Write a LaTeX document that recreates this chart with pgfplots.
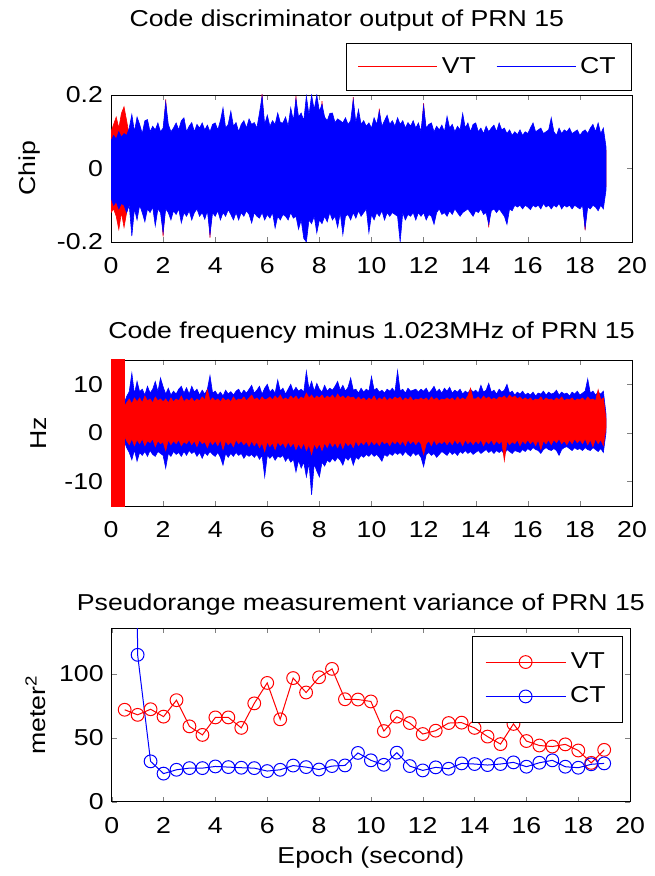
\documentclass[border=0pt]{standalone}
\usepackage{fontspec}
\setmainfont{Liberation Sans}[FakeStretch=1.16]
\usepackage{pgfplots}
\pgfplotsset{compat=1.18}
\usepackage{pgfplotstable}
\usepgfplotslibrary{fillbetween}

% Code discriminator output, CT (blue) envelope
\pgfplotstableread{
x u l
0.0 0.075 -0.08
0.1 0.09 -0.1
0.2 0.08 -0.09
0.3 0.1 -0.11
0.4 0.085 -0.095
0.5 0.095 -0.1
0.6 0.09 -0.12
0.7 0.11 -0.1
0.8 0.147 -0.184
0.9 0.1 -0.11
1.0 0.14 -0.14
1.1 0.12 -0.1
1.2 0.095 -0.12
1.3 0.13 -0.145
1.4 0.133 -0.11
1.5 0.1 -0.12
1.6 0.115 -0.105
1.7 0.105 -0.156
1.8 0.124 -0.11
1.9 0.1 -0.12
2.0 0.11 -0.175
2.1 0.18 -0.11
2.2 0.12 -0.12
2.3 0.1 -0.14
2.4 0.11 -0.115
2.5 0.124 -0.125
2.6 0.105 -0.11
2.7 0.13 -0.148
2.8 0.138 -0.12
2.9 0.1 -0.13
3.0 0.115 -0.115
3.1 0.125 -0.14
3.2 0.1 -0.12
3.3 0.12 -0.11
3.4 0.11 -0.13
3.5 0.124 -0.12
3.6 0.105 -0.138
3.7 0.118 -0.115
3.8 0.1 -0.18
3.9 0.12 -0.12
4.0 0.124 -0.13
4.1 0.105 -0.115
4.2 0.13 -0.14
4.3 0.165 -0.12
4.4 0.11 -0.13
4.5 0.12 -0.112
4.6 0.156 -0.125
4.7 0.115 -0.14
4.8 0.125 -0.12
4.9 0.1 -0.14
5.0 0.12 -0.12
5.1 0.13 -0.13
5.2 0.11 -0.115
5.3 0.135 -0.125
5.4 0.12 -0.148
5.5 0.125 -0.12
5.6 0.11 -0.13
5.7 0.151 -0.135
5.8 0.197 -0.12
5.9 0.12 -0.14
6.0 0.145 -0.125
6.1 0.115 -0.135
6.2 0.13 -0.12
6.3 0.12 -0.162
6.4 0.151 -0.13
6.5 0.125 -0.14
6.6 0.124 -0.125
6.7 0.14 -0.13
6.8 0.115 -0.14
6.9 0.165 -0.12
7.0 0.13 -0.135
7.1 0.19 -0.13
7.2 0.14 -0.165
7.3 0.151 -0.14
7.4 0.13 -0.19
7.5 0.197 -0.2
7.6 0.145 -0.14
7.7 0.2 -0.15
7.8 0.16 -0.13
7.9 0.2 -0.175
8.0 0.155 -0.14
8.1 0.175 -0.15
8.2 0.14 -0.13
8.3 0.13 -0.145
8.4 0.15 -0.12
8.5 0.151 -0.14
8.6 0.125 -0.13
8.7 0.135 -0.16
8.8 0.13 -0.12
8.9 0.124 -0.18
9.0 0.138 -0.13
9.1 0.12 -0.125
9.2 0.13 -0.14
9.3 0.187 -0.12
9.4 0.125 -0.135
9.5 0.16 -0.115
9.6 0.12 -0.13
9.7 0.13 -0.12
9.8 0.115 -0.11
9.9 0.124 -0.175
10.0 0.11 -0.125
10.1 0.138 -0.14
10.2 0.12 -0.12
10.3 0.156 -0.13
10.4 0.115 -0.115
10.5 0.13 -0.14
10.6 0.145 -0.12
10.7 0.12 -0.13
10.8 0.13 -0.12
10.9 0.115 -0.125
11.0 0.138 -0.13
11.1 0.12 -0.2
11.2 0.13 -0.12
11.3 0.11 -0.14
11.4 0.125 -0.125
11.5 0.115 -0.13
11.6 0.13 -0.12
11.7 0.11 -0.14
11.8 0.124 -0.12
11.9 0.1 -0.13
12.0 0.171 -0.12
12.1 0.11 -0.14
12.2 0.12 -0.125
12.3 0.124 -0.13
12.4 0.1 -0.152
12.5 0.115 -0.12
12.6 0.105 -0.11
12.7 0.118 -0.125
12.8 0.1 -0.12
12.9 0.142 -0.13
13.0 0.11 -0.115
13.1 0.12 -0.125
13.2 0.1 -0.11
13.3 0.115 -0.12
13.4 0.105 -0.13
13.5 0.15 -0.12
13.6 0.11 -0.115
13.7 0.124 -0.11
13.8 0.1 -0.12
13.9 0.12 -0.13
14.0 0.124 -0.115
14.1 0.1 -0.12
14.2 0.11 -0.11
14.3 0.095 -0.125
14.4 0.115 -0.12
14.5 0.1 -0.152
14.6 0.11 -0.115
14.7 0.118 -0.11
14.8 0.1 -0.12
14.9 0.124 -0.11
15.0 0.105 -0.12
15.1 0.11 -0.13
15.2 0.095 -0.152
15.3 0.105 -0.11
15.4 0.09 -0.115
15.5 0.1 -0.1
15.6 0.092 -0.105
15.7 0.105 -0.1
15.8 0.09 -0.11
15.9 0.1 -0.1
16.0 0.095 -0.105
16.1 0.11 -0.112
16.2 0.124 -0.1
16.3 0.1 -0.105
16.4 0.105 -0.1
16.5 0.11 -0.11
16.6 0.095 -0.095
16.7 0.1 -0.105
16.8 0.105 -0.1
16.9 0.138 -0.11
17.0 0.1 -0.1
17.1 0.09 -0.105
17.2 0.11 -0.095
17.3 0.095 -0.11
17.4 0.105 -0.1
17.5 0.1 -0.105
17.6 0.11 -0.1
17.7 0.095 -0.11
17.8 0.1 -0.1
17.9 0.105 -0.105
18.0 0.09 -0.11
18.1 0.1 -0.1
18.2 0.105 -0.162
18.3 0.095 -0.105
18.4 0.11 -0.11
18.5 0.12 -0.1
18.6 0.1 -0.105
18.7 0.124 -0.115
18.8 0.095 -0.1
18.9 0.11 -0.11
19.0 0.06 -0.06
}\topCT

% Code discriminator output, VT (red) envelope (mostly hidden below CT)
\pgfplotstableread{
x u l
0.0 0.10 -0.12
0.1 0.12 -0.11
0.2 0.14 -0.13
0.3 0.11 -0.166
0.4 0.15 -0.12
0.5 0.168 -0.16
0.6 0.13 -0.12
0.7 0.09 -0.09
1.0 0.08 -0.08
1.9 0.08 -0.08
2.0 0.08 -0.185
2.1 0.188 -0.08
2.2 0.08 -0.08
3.0 0.08 -0.08
3.7 0.08 -0.08
3.8 0.08 -0.188
3.9 0.08 -0.08
5.0 0.08 -0.08
5.7 0.08 -0.08
5.8 0.204 -0.08
5.9 0.08 -0.08
7.0 0.08 -0.08
7.1 0.197 -0.08
7.2 0.08 -0.08
8.0 0.08 -0.08
8.1 0.183 -0.08
8.2 0.08 -0.08
9.2 0.08 -0.08
9.3 0.194 -0.08
9.4 0.08 -0.08
10.2 0.08 -0.08
10.3 0.163 -0.08
10.4 0.08 -0.08
11.9 0.08 -0.08
12.0 0.178 -0.08
12.1 0.08 -0.08
14.4 0.08 -0.08
14.5 0.08 -0.16
14.6 0.08 -0.08
18.1 0.08 -0.08
18.2 0.08 -0.168
18.3 0.08 -0.08
19.0 0.05 -0.05
}\topVT

% Code frequency, CT (blue) envelope
\pgfplotstableread{
x u l
0.5 6.0 -1.5
0.6 7.5 -3.0
0.7 8.5 -4.0
0.8 12.3 -5.5
0.9 8.0 -3.5
1.0 10.6 -5.8
1.1 8.5 -4.0
1.2 9.0 -4.6
1.3 7.8 -3.8
1.4 9.6 -4.8
1.5 8.2 -3.6
1.6 9.0 -4.4
1.7 10.6 -4.8
1.8 8.5 -3.8
1.9 11.3 -4.2
2.0 9.5 -4.6
2.1 8.0 -7.2
2.2 9.2 -4.2
2.3 7.8 -4.8
2.4 8.6 -3.8
2.5 8.0 -4.4
2.6 9.0 -4.0
2.7 9.6 -4.8
2.8 8.2 -3.8
2.9 9.3 -4.6
3.0 8.0 -3.6
3.1 9.6 -4.2
3.2 8.4 -3.8
3.3 9.0 -4.8
3.4 7.8 -4.0
3.5 8.8 -5.2
3.6 8.0 -4.0
3.7 9.0 -4.6
3.8 11.8 -3.8
3.9 8.2 -4.4
4.0 8.6 -4.8
4.1 7.8 -4.0
4.2 8.4 -5.0
4.3 7.6 -6.6
4.4 8.8 -4.2
4.5 8.0 -5.0
4.6 8.5 -4.2
4.7 7.8 -4.8
4.8 8.6 -4.0
4.9 9.0 -4.6
5.0 8.0 -4.2
5.1 8.8 -5.2
5.2 8.2 -4.4
5.3 9.0 -4.8
5.4 9.8 -4.4
5.5 8.2 -5.0
5.6 8.8 -4.4
5.7 9.6 -5.4
5.8 8.0 -4.6
5.9 9.2 -9.0
6.0 10.0 -4.6
6.1 8.4 -5.2
6.2 9.0 -4.6
6.3 8.2 -5.6
6.4 10.9 -4.8
6.5 8.6 -5.0
6.6 9.2 -4.6
6.7 8.0 -5.8
6.8 9.0 -5.0
6.9 10.0 -6.0
7.0 8.5 -5.4
7.1 9.4 -8.0
7.2 8.6 -5.6
7.3 9.0 -7.2
7.4 8.4 -6.0
7.5 12.7 -9.0
7.6 9.0 -6.2
7.7 10.6 -12.7
7.8 8.6 -6.4
7.9 10.2 -7.8
8.0 9.0 -9.0
8.1 8.4 -6.0
8.2 9.8 -6.8
8.3 8.6 -5.6
8.4 9.2 -6.0
8.5 8.8 -5.2
8.6 9.6 -5.8
8.7 10.6 -5.0
8.8 8.8 -5.6
8.9 9.8 -6.6
9.0 8.6 -5.0
9.1 9.4 -5.6
9.2 11.3 -4.8
9.3 8.8 -6.6
9.4 9.0 -5.0
9.5 8.2 -5.4
9.6 9.2 -4.6
9.7 8.4 -5.0
9.8 9.0 -4.4
9.9 8.6 -4.8
10.0 11.6 -4.2
10.1 8.8 -4.8
10.2 9.2 -4.4
10.3 8.4 -5.0
10.4 8.8 -5.8
10.5 8.2 -4.4
10.6 9.0 -4.8
10.7 8.6 -4.2
10.8 9.2 -4.6
10.9 8.4 -4.0
11.0 12.8 -4.4
11.1 8.6 -4.0
11.2 9.0 -4.6
11.3 8.2 -3.8
11.4 9.2 -4.4
11.5 8.6 -4.8
11.6 8.8 -4.0
11.7 9.0 -4.6
11.8 8.4 -4.2
11.9 9.0 -5.0
12.0 8.6 -6.9
12.1 9.2 -4.4
12.2 8.2 -4.0
12.3 8.8 -4.6
12.4 9.6 -4.2
12.5 8.4 -5.0
12.6 9.0 -4.4
12.7 8.2 -3.8
12.8 9.2 -4.2
12.9 8.6 -4.6
13.0 9.4 -3.8
13.1 8.2 -4.4
13.2 8.8 -4.0
13.3 8.4 -4.6
13.4 9.0 -3.8
13.5 8.0 -4.2
13.6 8.6 -3.6
13.7 8.2 -4.2
13.8 9.0 -3.8
13.9 8.4 -4.4
14.0 8.8 -4.0
14.1 8.2 -3.6
14.2 9.8 -4.2
14.3 8.4 -3.8
14.4 8.8 -3.4
14.5 10.2 -4.0
14.6 8.4 -3.6
14.7 8.8 -4.2
14.8 8.0 -3.6
14.9 9.0 -4.0
15.0 8.4 -3.6
15.1 8.8 -4.4
15.2 10.0 -3.4
15.3 8.2 -3.8
15.4 8.6 -4.2
15.5 7.8 -3.6
15.6 8.4 -3.8
15.7 8.0 -4.0
15.8 8.6 -3.4
15.9 7.8 -3.8
16.0 8.2 -3.2
16.1 7.8 -3.6
16.2 8.4 -3.0
16.3 7.6 -3.4
16.4 8.2 -3.6
16.5 8.0 -4.2
16.6 8.6 -3.4
16.7 7.8 -3.0
16.8 8.4 -3.4
16.9 8.0 -3.6
17.0 8.2 -3.2
17.1 8.8 -3.6
17.2 7.8 -4.6
17.3 8.4 -3.4
17.4 8.0 -3.0
17.5 8.2 -2.8
17.6 7.6 -3.2
17.7 8.4 -3.6
17.8 8.0 -3.0
17.9 8.6 -3.4
18.0 7.8 -3.2
18.1 8.2 -3.6
18.2 8.6 -3.0
18.3 11.1 -3.4
18.4 8.2 -3.6
18.5 8.6 -3.0
18.6 7.8 -3.4
18.7 8.4 -3.8
18.8 8.0 -3.2
18.9 8.6 -4.0
19.0 4.0 0.0
}\midCT

% Code frequency, VT (red) envelope
\pgfplotstableread{
x u l
0.0 100 -100
0.5 100 -100
0.52 5.5 -0.6
0.6 6.2 -1.6
0.7 7.0 -2.4
0.8 6.0 -1.2
0.9 7.2 -2.6
1.0 6.4 -1.4
1.1 7.2 -2.2
1.2 6.2 -1.2
1.3 7.6 -2.6
1.4 6.6 -1.6
1.5 7.0 -2.0
1.6 6.2 -1.2
1.7 7.4 -2.8
1.8 6.6 -1.6
1.9 7.0 -2.2
2.0 6.4 -1.8
2.1 7.0 -3.6
2.2 6.2 -1.4
2.3 7.2 -2.4
2.4 6.4 -1.6
2.5 7.0 -2.2
2.6 6.6 -1.4
2.7 7.6 -2.6
2.8 6.4 -1.8
2.9 7.0 -2.2
3.0 6.6 -1.4
3.1 7.2 -2.4
3.2 6.4 -1.6
3.3 7.0 -2.8
3.4 6.6 -1.4
3.5 7.4 -2.2
3.6 6.8 -1.8
3.7 8.9 -3.0
3.8 6.6 -1.6
3.9 7.2 -2.4
4.0 6.6 -1.6
4.1 7.0 -2.6
4.2 6.4 -1.4
4.3 7.2 -3.4
4.4 6.6 -1.6
4.5 7.0 -2.4
4.6 6.4 -1.8
4.7 7.4 -2.8
4.8 6.6 -1.4
4.9 7.0 -2.2
5.0 6.8 -1.6
5.1 7.4 -2.4
5.2 6.6 -1.8
5.3 7.2 -2.8
5.4 7.8 -1.6
5.5 6.8 -2.6
5.6 7.2 -1.8
5.7 6.6 -3.0
5.8 7.4 -2.0
5.9 6.8 -3.8
6.0 7.0 -1.8
6.1 7.4 -2.8
6.2 6.8 -2.0
6.3 7.6 -3.4
6.4 7.0 -1.8
6.5 7.8 -2.6
6.6 6.8 -2.0
6.7 7.2 -3.0
6.8 6.8 -1.8
6.9 7.6 -2.8
7.0 7.0 -2.0
7.1 7.6 -3.4
7.2 6.8 -2.2
7.3 7.4 -3.2
7.4 7.0 -2.0
7.5 8.2 -3.6
7.6 7.2 -2.4
7.7 7.8 -4.4
7.8 7.0 -2.2
7.9 7.6 -3.2
8.0 7.2 -2.2
8.1 7.8 -3.6
8.2 7.0 -2.0
8.3 7.6 -3.0
8.4 7.2 -1.8
8.5 7.8 -2.8
8.6 7.0 -2.0
8.7 8.0 -3.0
8.8 7.2 -1.8
8.9 7.6 -3.2
9.0 7.0 -1.8
9.1 7.6 -2.6
9.2 7.2 -2.0
9.3 7.4 -3.0
9.4 6.8 -1.6
9.5 7.4 -2.6
9.6 6.8 -1.8
9.7 7.2 -2.4
9.8 6.6 -1.6
9.9 7.2 -2.6
10.0 6.8 -1.6
10.1 7.6 -2.4
10.2 6.6 -1.8
10.3 7.2 -2.6
10.4 6.8 -1.6
10.5 7.4 -2.2
10.6 6.6 -1.8
10.7 7.2 -2.6
10.8 6.8 -1.6
10.9 7.4 -2.2
11.0 7.0 -1.6
11.1 7.4 -2.4
11.2 6.6 -1.6
11.3 7.2 -2.6
11.4 6.8 -1.4
11.5 7.4 -2.2
11.6 6.6 -1.6
11.7 7.0 -2.4
11.8 6.8 -1.6
11.9 7.2 -2.2
12.0 6.8 -4.4
12.1 7.2 -2.2
12.2 6.6 -1.6
12.3 7.4 -2.6
12.4 6.8 -1.4
12.5 7.2 -2.4
12.6 6.6 -1.8
12.7 7.0 -2.2
12.8 6.8 -1.6
12.9 7.2 -2.4
13.0 6.8 -1.6
13.1 7.2 -2.4
13.2 6.6 -1.4
13.3 7.4 -2.2
13.4 6.8 -1.6
13.5 7.2 -2.6
13.6 6.8 -1.4
13.7 7.6 -2.2
13.8 9.2 -1.6
13.9 7.0 -2.4
14.0 7.0 -1.6
14.1 7.4 -2.2
14.2 6.8 -1.4
14.3 7.6 -2.6
14.4 7.0 -1.6
14.5 7.4 -2.2
14.6 6.8 -1.4
14.7 7.2 -2.4
14.8 6.8 -1.6
14.9 7.4 -2.2
15.0 7.2 -1.6
15.1 7.6 -5.7
15.2 7.0 -1.6
15.3 7.8 -2.4
15.4 7.2 -1.8
15.5 7.6 -2.2
15.6 7.0 -1.4
15.7 7.4 -2.6
15.8 6.8 -1.6
15.9 7.2 -2.2
16.0 6.8 -1.4
16.1 7.2 -2.2
16.2 6.6 -1.6
16.3 7.0 -2.6
16.4 6.8 -1.4
16.5 7.4 -3.4
16.6 6.6 -1.6
16.7 7.2 -2.2
16.8 6.8 -1.4
16.9 7.0 -2.4
17.0 6.6 -1.4
17.1 7.2 -2.0
17.2 6.8 -1.2
17.3 7.4 -2.2
17.4 6.6 -1.6
17.5 7.0 -2.4
17.6 6.8 -1.4
17.7 7.2 -2.2
17.8 6.6 -1.2
17.9 7.0 -2.0
18.0 6.8 -1.4
18.1 7.2 -2.2
18.2 6.6 -1.2
18.3 7.4 -2.4
18.4 6.8 -1.4
18.5 7.0 -2.8
18.6 6.6 -1.2
18.7 8.9 -2.2
18.8 6.8 -1.4
18.9 7.2 -2.6
19.0 3.0 1.0
}\midVT

\pgfplotsset{
  every axis title/.style={at={(0.5,1)}, anchor=base},
  panel/.style={
    scale only axis,
    xmin=0, xmax=20, xtick={0,2,...,20},
    /pgf/number format/assume math mode=true,
    tick align=inside, major tick length=2.5pt,
    xticklabel style={anchor=base, yshift=-15.7pt},
    ylabel style={anchor=center},
  },
}

\begin{document}
\fontsize{11.5}{13.8}\selectfont
\begin{tikzpicture}
\path (0,0) rectangle (324.5pt,-438pt);

% ---------- top panel ----------
\begin{axis}[panel, at={(55.5pt,-47.5pt)}, anchor=north west,
  width=260.5pt, height=73.5pt,
  ymin=-0.2, ymax=0.2, ytick={-0.2,0,0.2},
  title={Code discriminator output of PRN 15},
  title style={yshift=34pt, xshift=-12.3pt},
  ylabel={Chip}, ylabel style={at={(axis description cs:-0.1555,0.5)}},
  legend image code/.code={\draw[#1] (0pt,0pt) -- (39.5pt,0pt);},
  legend columns=2,
  legend style={at={(1,1)}, anchor=south east, yshift=2pt, draw=black,
    inner xsep=6pt, inner ysep=5pt,
    /tikz/every even column/.append style={column sep=8pt}},
]
\addlegendimage{color=red, line width=0.5pt}
\addlegendentry{VT}
\addlegendimage{color=blue, line width=0.5pt}
\addlegendentry{CT}
\addplot[draw=none, name path=vu, forget plot] table[x=x, y=u]{\topVT};
\addplot[draw=none, name path=vl, forget plot] table[x=x, y=l]{\topVT};
\addplot[fill=red, draw=red, line width=0.3pt, forget plot] fill between[of=vu and vl];
\addplot[draw=none, name path=cu, forget plot] table[x=x, y=u]{\topCT};
\addplot[draw=none, name path=cl, forget plot] table[x=x, y=l]{\topCT};
\addplot[fill=blue, draw=blue, line width=0.3pt, forget plot] fill between[of=cu and cl];
\end{axis}

% ---------- middle panel ----------
\begin{axis}[panel, at={(55.5pt,-180pt)}, anchor=north west,
  width=260.5pt, height=73pt,
  ymin=-15, ymax=15, ytick={-10,0,10},
  title={Code frequency minus 1.023MHz of PRN 15},
  title style={yshift=10.5pt},
  ylabel={Hz}, ylabel style={at={(axis description cs:-0.139,0.5)}},
]
\addplot[draw=none, name path=cu, forget plot] table[x=x, y=u]{\midCT};
\addplot[draw=none, name path=cl, forget plot] table[x=x, y=l]{\midCT};
\addplot[fill=blue, draw=blue, line width=0.3pt, forget plot] fill between[of=cu and cl];
\addplot[draw=none, name path=vu, forget plot] table[x=x, y=u]{\midVT};
\addplot[draw=none, name path=vl, forget plot] table[x=x, y=l]{\midVT};
\addplot[fill=red, draw=red, line width=0.3pt, forget plot] fill between[of=vu and vl];
\end{axis}

% ---------- bottom panel ----------
\begin{axis}[panel, at={(55.85pt,-314pt)}, anchor=north west,
  width=259.2pt, height=86.85pt,
  ymin=0, ymax=136, ytick={0,50,100},
  title={Pseudorange measurement variance of PRN 15},
  title style={yshift=9pt, xshift=-5pt},
  ylabel={meter\textsuperscript{2}}, ylabel style={at={(axis description cs:-0.147,0.5)}},
  xlabel={Epoch (second)}, xlabel style={at={(axis description cs:0.5,0)}, anchor=base, yshift=-30.7pt},
  legend image code/.code={\draw[mark repeat=2, mark phase=2, #1] plot coordinates {(0pt,0pt) (20pt,0pt) (40pt,0pt)};},
  legend style={at={(1,1)}, anchor=north east, xshift=-3.5pt, yshift=-4pt, draw=black,
    inner xsep=6.5pt, inner ysep=6pt, row sep=3.5pt},
]
\addplot[red, line width=0.5pt, mark=o, mark size=3.2pt] coordinates {
(0.5,72.0) (1,68) (1.5,72.4) (2,66.6) (2.5,79.5) (3,59) (3.5,52.3) (4,66) (4.5,66) (5,57.8)
(5.5,77) (6,93) (6.5,64.5) (7,96.8) (7.5,85.5) (8,97.4) (8.5,104) (9,80.2) (9.5,80) (10,78.5)
(10.5,55.3) (11,66.6) (11.5,61.6) (12,53) (12.5,55.6) (13,61.6) (13.5,61.9) (14,57.8) (14.5,51) (15,45.1)
(15.5,60.9) (16,47.5) (16.5,44) (17,43.2) (17.5,44.9) (18,40.1) (18.5,30.4) (19,40.6)
};
\addlegendentry{VT}
\addplot[blue, line width=0.5pt, mark=o, mark size=3.2pt] coordinates {
(0.5,1500) (1,115) (1.5,31.6) (2,22) (2.5,25) (3,26.3) (3.5,26.3) (4,27.6) (4.5,27.1) (5,26.6)
(5.5,26.3) (6,24) (6.5,25) (7,28.3) (7.5,27.1) (8,25.2) (8.5,27.9) (9,28.4) (9.5,38.2) (10,32.4)
(10.5,28.9) (11,38.4) (11.5,27.9) (12,24.5) (12.5,26.9) (13,25.8) (13.5,30) (14,29.5) (14.5,28.7) (15,29.5)
(15.5,30.8) (16,27.4) (16.5,30.5) (17,32.4) (17.5,27.4) (18,26.6) (18.5,29.3) (19,30)
};
\addlegendentry{CT}
\end{axis}
\end{tikzpicture}
\end{document}
